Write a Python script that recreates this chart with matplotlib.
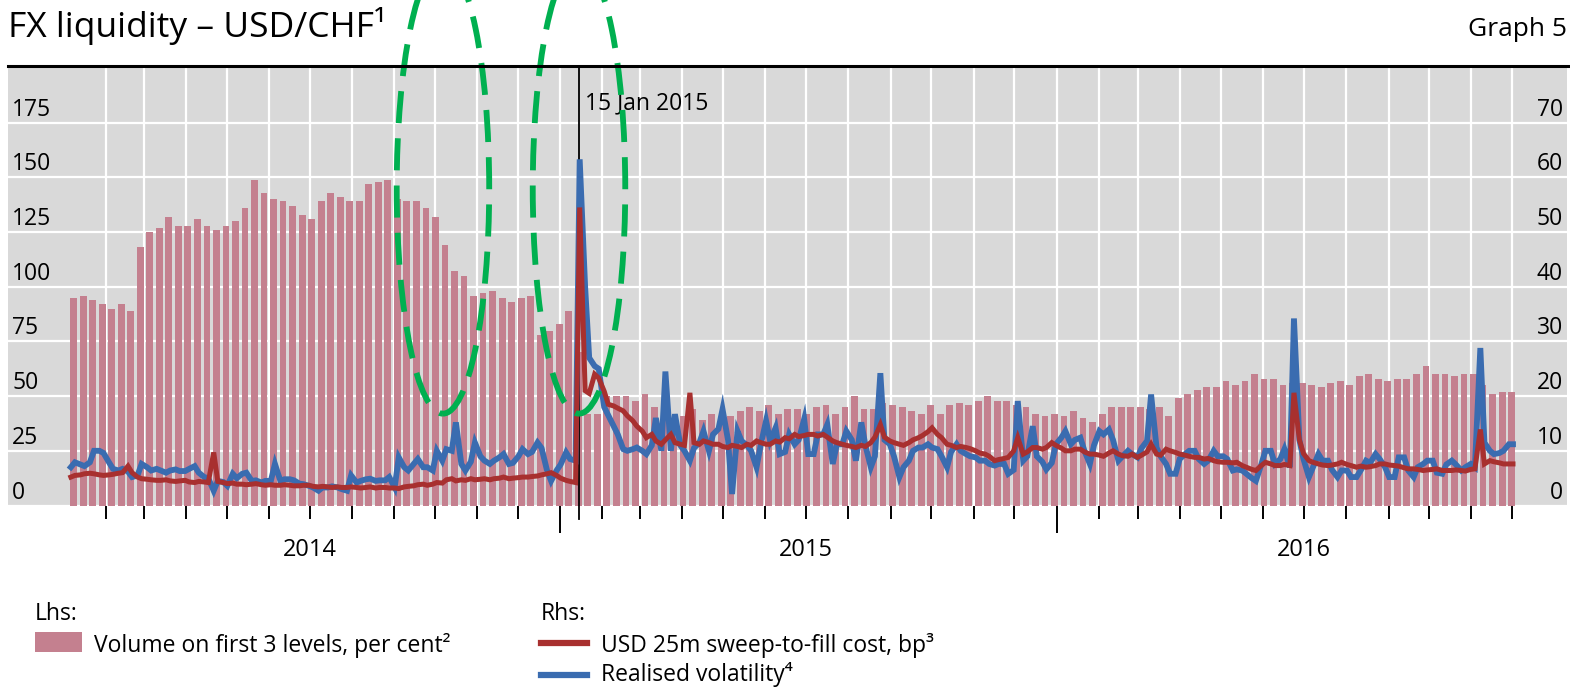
import pandas as pd
import matplotlib
matplotlib.use('Agg')
import matplotlib.pyplot as plt
import matplotlib.dates as mdates
import matplotlib.transforms as mtransforms
from matplotlib.patches import Ellipse, Rectangle
from matplotlib.lines import Line2D

plt.rcParams['font.family'] = ['Open Sans', 'DejaVu Sans']

# weekly blocks (Mon-Fri), first week starting 6 Jan 2014
week_start = pd.date_range('2014-01-06', periods=152, freq='7D')

# Lhs: volume on first 3 levels, per cent (one value per week)
volume_first3 = [
    95, 96, 94, 92, 90, 92, 89, 118, 125, 127,
    132, 128, 128, 131, 128, 126, 128, 130, 136, 149,
    143, 140, 139, 137, 133, 131, 139, 143, 141, 139,
    139, 147, 148, 149, 140, 139, 139, 136, 132, 119,
    107, 105, 96, 97, 98, 95, 93, 95, 96, 78,
    80, 83, 89, 70, 42, 42, 50, 50, 50, 48,
    51, 45, 46, 40, 41, 44, 39, 42, 40, 41,
    43, 45, 43, 46, 42, 44, 44, 42, 45, 46,
    42, 45, 50, 44, 44, 47, 46, 45, 43, 42,
    46, 42, 46, 47, 46, 48, 50, 48, 48, 46,
    45, 42, 41, 42, 41, 43, 40, 38, 42, 45,
    45, 45, 45, 44, 45, 41, 49, 51, 53, 54,
    54, 57, 55, 57, 60, 58, 58, 55, 56, 56,
    55, 54, 56, 57, 55, 59, 60, 58, 57, 58,
    58, 60, 64, 60, 60, 59, 60, 60, 55, 51,
    52, 52,
]

# Rhs: two readings per week (Monday, Thursday)
sweep_cost = [
    5.2, 5.5, 5.6, 5.8, 5.9, 5.8, 5.6, 5.5, 5.6, 5.7,
    5.9, 6.0, 7.2, 6.0, 5.2, 4.9, 4.8, 4.7, 4.6, 4.6,
    4.7, 4.5, 4.4, 4.5, 4.6, 4.3, 4.2, 4.4, 4.3, 4.2,
    9.7, 4.4, 4.2, 4.0, 4.1, 3.9, 3.9, 3.8, 3.9, 4.0,
    3.8, 3.7, 3.8, 3.7, 3.7, 3.8, 3.7, 3.6, 3.6, 3.7,
    3.7, 3.5, 3.4, 3.5, 3.4, 3.3, 3.4, 3.3, 3.3, 3.4,
    3.3, 3.2, 3.3, 3.4, 3.2, 3.3, 3.3, 3.2, 3.2, 3.1,
    3.4, 3.5, 3.6, 3.8, 3.9, 3.7, 3.9, 4.2, 4.1, 4.7,
    4.9, 4.5, 4.7, 4.6, 4.9, 4.7, 4.8, 4.9, 4.7, 4.9,
    5.0, 5.2, 4.9, 5.0, 5.1, 5.2, 5.2, 5.3, 5.4, 5.6,
    5.8, 6.0, 5.5, 5.0, 4.6, 4.4, 4.2, 54.5, 21.0, 20.5,
    24.0, 23.3, 20.9, 18.5, 18.2, 17.8, 17.3, 16.4, 15.5, 14.5,
    13.6, 12.4, 13.0, 11.8, 11.2, 12.0, 13.0, 11.5, 11.2, 11.0,
    20.6, 11.5, 11.2, 11.8, 11.5, 11.2, 11.2, 10.8, 10.6, 11.0,
    10.8, 10.6, 11.2, 11.0, 11.8, 11.5, 11.2, 11.2, 11.8, 11.6,
    12.4, 12.2, 13.0, 12.6, 12.8, 13.0, 13.0, 12.7, 13.0, 12.5,
    11.8, 11.5, 11.2, 11.0, 10.8, 10.6, 11.0, 10.8, 11.5, 12.5,
    14.8, 12.5, 11.8, 11.5, 11.2, 11.0, 11.5, 12.0, 12.4, 12.8,
    13.5, 14.2, 13.0, 12.4, 11.2, 11.0, 10.6, 10.8, 10.6, 10.4,
    10.0, 9.6, 9.4, 9.0, 8.2, 8.4, 8.6, 8.8, 10.0, 12.4,
    9.4, 9.8, 10.6, 10.6, 10.3, 10.6, 11.5, 11.0, 10.5, 10.0,
    10.0, 10.3, 10.3, 9.8, 9.4, 9.4, 9.2, 9.0, 9.6, 10.0,
    9.4, 9.1, 9.0, 9.4, 8.8, 9.2, 9.8, 11.2, 9.4, 9.2,
    10.3, 10.0, 9.7, 9.4, 9.2, 9.0, 8.8, 8.8, 8.5, 8.6,
    8.2, 8.0, 7.9, 7.9, 7.8, 7.9, 7.3, 7.0, 6.6, 6.4,
    7.3, 7.9, 7.6, 7.3, 7.3, 7.5, 7.3, 20.6, 12.0, 9.5,
    8.2, 7.9, 7.6, 7.4, 7.3, 7.4, 7.6, 7.9, 7.5, 7.3,
    7.0, 7.2, 7.0, 7.1, 7.3, 7.6, 7.6, 7.4, 7.3, 7.2,
    6.9, 6.7, 6.7, 6.6, 6.4, 6.5, 6.6, 6.7, 6.4, 6.4,
    6.4, 6.5, 6.4, 6.3, 6.6, 6.7, 13.9, 7.6, 8.2, 8.0,
    7.8, 7.6, 7.6, 7.6,
]

realised_vol = [
    7.0, 7.9, 7.5, 7.2, 7.9, 10.0, 10.0, 9.6, 7.9, 6.7,
    6.4, 6.7, 6.2, 5.2, 5.5, 7.6, 7.0, 6.4, 6.7, 6.4,
    6.0, 6.4, 6.6, 6.3, 6.3, 6.7, 7.2, 6.0, 5.2, 5.0,
    2.7, 4.5, 4.3, 3.6, 5.8, 5.0, 5.8, 6.0, 4.5, 4.6,
    4.2, 4.5, 4.5, 7.6, 4.5, 4.8, 4.8, 4.6, 4.0, 3.9,
    3.6, 3.3, 2.7, 3.3, 3.3, 3.5, 3.3, 3.0, 2.7, 5.5,
    4.2, 4.5, 4.8, 4.9, 4.5, 4.6, 4.6, 5.2, 3.3, 8.8,
    7.0, 6.4, 7.6, 8.5, 7.0, 7.0, 6.4, 10.0, 8.2, 10.3,
    10.0, 15.2, 7.6, 6.4, 8.0, 11.5, 9.0, 8.2, 7.6, 8.2,
    8.8, 9.4, 7.6, 7.8, 9.0, 10.3, 9.4, 9.8, 11.5, 10.5,
    6.4, 4.5, 6.4, 7.5, 9.7, 8.5, 8.2, 63.3, 40.0, 27.0,
    25.5, 25.0, 18.0, 16.5, 14.5, 13.0, 10.3, 10.0, 10.3, 10.6,
    10.0, 9.4, 11.0, 16.0, 10.0, 24.5, 10.0, 16.7, 11.0, 10.0,
    8.2, 10.5, 11.5, 13.6, 10.0, 13.0, 14.0, 17.6, 12.0, 2.1,
    13.6, 11.8, 11.0, 10.0, 7.0, 11.0, 15.5, 11.8, 14.2, 9.4,
    9.8, 13.0, 11.2, 12.0, 15.8, 9.4, 9.4, 13.0, 13.0, 14.8,
    7.6, 11.2, 11.2, 13.6, 12.0, 8.2, 15.2, 11.0, 7.0, 9.0,
    24.2, 12.0, 11.2, 9.0, 5.2, 7.0, 8.2, 10.0, 10.6, 10.6,
    11.2, 10.6, 10.3, 9.0, 7.0, 9.8, 11.2, 10.0, 9.4, 9.0,
    8.8, 8.2, 8.2, 7.6, 7.3, 7.6, 7.6, 5.8, 6.5, 19.1,
    8.2, 9.0, 14.5, 9.0, 8.0, 6.6, 7.8, 11.2, 12.4, 13.6,
    11.2, 12.0, 12.4, 10.0, 7.6, 11.0, 13.6, 13.0, 13.9, 12.0,
    8.2, 9.0, 10.0, 9.4, 8.8, 10.5, 11.8, 20.3, 10.6, 9.0,
    7.6, 5.8, 5.8, 8.5, 9.4, 10.0, 10.0, 8.5, 7.6, 8.2,
    10.0, 9.0, 9.0, 8.5, 6.4, 6.6, 6.4, 5.8, 5.0, 4.5,
    7.5, 10.0, 10.0, 7.6, 8.5, 10.3, 7.0, 34.2, 12.0, 8.5,
    5.2, 7.0, 9.4, 8.2, 8.2, 6.5, 5.2, 6.4, 6.4, 5.2,
    5.2, 6.4, 8.2, 7.8, 9.4, 8.5, 7.0, 5.2, 5.2, 8.8,
    8.8, 6.4, 5.2, 7.0, 7.6, 8.2, 8.2, 6.0, 5.8, 7.5,
    8.2, 7.5, 6.4, 7.0, 7.6, 7.0, 28.8, 11.5, 10.0, 9.4,
    9.6, 10.0, 11.2, 11.2,
]

event_date = pd.Timestamp('2015-01-15')
event_label = '15 Jan 2015'
highlight_centres = [pd.Timestamp('2014-10-07'), pd.Timestamp('2015-01-15')]
year_labels = ['2014', '2015', '2016']
left_ticks = [0, 25, 50, 75, 100, 125, 150, 175]
right_ticks = [0, 10, 20, 30, 40, 50, 60, 70]

BAR_COLOR = '#C4808F'
RED = '#A8302F'
BLUE = '#3A6CB0'
GREEN = '#00B050'
BG = '#D9D9D9'

W, H = 1570, 688
fig = plt.figure(figsize=(W / 100, H / 100), dpi=100)
ax = fig.add_axes([8 / W, (H - 505.5) / H, 1559 / W, 437.5 / H])
ax.set_facecolor(BG)
for s in ax.spines.values():
    s.set_visible(False)

bar_x = mdates.date2num(week_start)
ax.bar(bar_x, volume_first3, width=5, align='edge', color=BAR_COLOR, linewidth=0, zorder=2)

jan14 = mdates.date2num(pd.Timestamp('2014-01-01'))
ax.set_xlim(jan14 - 40.7, jan14 + 1105.2)
ax.set_ylim(0, 200)

# x axis: month ticks, longer ticks at year starts
months = pd.date_range('2014-02-01', '2016-12-01', freq='MS')
year_starts = [d for d in months if d.month == 1]
other_months = [d for d in months if d.month != 1]
ax.set_xticks(mdates.date2num(year_starts))
ax.set_xticks(mdates.date2num(other_months), minor=True)
ax.tick_params(axis='x', which='major', length=19.5, width=1.4, direction='out', labelbottom=False)
ax.tick_params(axis='x', which='minor', length=9.5, width=1.4, direction='out')
ax.set_yticks(left_ticks)
ax.tick_params(axis='y', length=0, labelleft=False)
ax.grid(True, which='both', color='white', lw=1.6)
ax.set_axisbelow(True)

ax2 = ax.twinx()
ax2.set_ylim(0, 80)
ax2.set_yticks(right_ticks)
ax2.tick_params(axis='y', length=0, labelright=False)
for s in ax2.spines.values():
    s.set_visible(False)

line_x = []
for d in week_start:
    line_x.append(d + pd.Timedelta(hours=12))
    line_x.append(d + pd.Timedelta(days=3, hours=12))
line_x = mdates.date2num(line_x)
ax2.plot(line_x, realised_vol, color=BLUE, lw=4.2, solid_joinstyle='miter', zorder=3)
ax2.plot(line_x, sweep_cost, color=RED, lw=3.6, solid_joinstyle='miter', zorder=4)

# tick labels sit just above their gridlines, inside the plot area
tl = mtransforms.blended_transform_factory(ax.transAxes, ax.transData)
tl = mtransforms.offset_copy(tl, fig=fig, y=5, units='points')
for v in left_ticks:
    ax.text(0.0026, v, str(v), transform=tl, ha='left', va='baseline', fontsize=16.5)
tr = mtransforms.blended_transform_factory(ax2.transAxes, ax2.transData)
tr = mtransforms.offset_copy(tr, fig=fig, y=5, units='points')
for v in right_ticks:
    ax2.text(0.9974, v, str(v), transform=tr, ha='right', va='baseline', fontsize=16.5)

ty = mtransforms.blended_transform_factory(ax.transData, ax.transAxes)
for yr in year_labels:
    ax.text(mdates.date2num(pd.Timestamp(yr + '-07-01')), -0.102, yr, transform=ty,
            ha='center', va='center', fontsize=17)

ev = mdates.date2num(event_date)
ax.axvline(ev, ymin=-0.03, ymax=1, color='black', lw=1.3, clip_on=False, zorder=2.5)
te = mtransforms.offset_copy(ax.transData, fig=fig, x=4.5, units='points')
ax.text(ev, 184, event_label, transform=te, ha='left', va='center', fontsize=16.5, zorder=5)

for c in highlight_centres:
    ell = Ellipse((mdates.date2num(c), 145), 68, 206, transform=ax.transData,
                  fill=False, edgecolor=GREEN, lw=4.2, linestyle=(0, (5.5, 2.6)),
                  clip_on=False, zorder=10)
    ax2.add_patch(ell)

# header
fig.text(8 / W, 1 - 37 / H, 'FX liquidity – USD/CHF¹', ha='left', va='baseline', fontsize=25.5)
fig.text(1567 / W, 1 - 36 / H, 'Graph 5', ha='right', va='baseline', fontsize=19)
fig.add_artist(Line2D([8 / W, 1], [1 - 66 / H] * 2, color='black', lw=2.2))

# legend
fig.text(35 / W, 1 - 620 / H, 'Lhs:', ha='left', va='baseline', fontsize=16.5)
fig.add_artist(Rectangle((35 / W, 1 - 652 / H), 47 / W, 20 / H, transform=fig.transFigure,
                         facecolor=BAR_COLOR, edgecolor='none'))
fig.text(94 / W, 1 - 652 / H, 'Volume on first 3 levels, per cent²', ha='left', va='baseline', fontsize=16.5)
fig.text(541 / W, 1 - 620 / H, 'Rhs:', ha='left', va='baseline', fontsize=16.5)
fig.add_artist(Line2D([541 / W, 587 / W], [1 - 643 / H] * 2, color=RED, lw=4.5))
fig.text(601 / W, 1 - 652 / H, 'USD 25m sweep-to-fill cost, bp³', ha='left', va='baseline', fontsize=16.5)
fig.add_artist(Line2D([541 / W, 587 / W], [1 - 675 / H] * 2, color=BLUE, lw=4.5))
fig.text(601 / W, 1 - 681 / H, 'Realised volatility⁴', ha='left', va='baseline', fontsize=16.5)

fig.savefig('out.png', dpi=100)
